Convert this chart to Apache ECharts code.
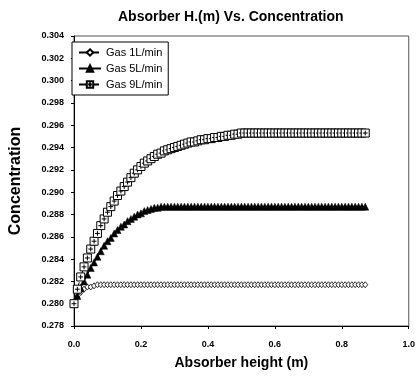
<!DOCTYPE html>
<html><head><meta charset="utf-8">
<script src="https://cdn.jsdelivr.net/npm/echarts@6/dist/echarts.min.js"></script>
<style>html,body{margin:0;padding:0;background:#fff}#c{width:418px;height:382px}</style>
</head><body><div id="c"></div>
<script>
const heights = [0.00,0.01,0.02,0.03,0.04,0.05,0.06,0.07,0.08,0.09,
0.10,0.11,0.12,0.13,0.14,0.15,0.16,0.17,0.18,0.19,
0.20,0.21,0.22,0.23,0.24,0.25,0.26,0.27,0.28,0.29,
0.30,0.31,0.32,0.33,0.34,0.35,0.36,0.37,0.38,0.39,
0.40,0.41,0.42,0.43,0.44,0.45,0.46,0.47,0.48,0.49,
0.50,0.51,0.52,0.53,0.54,0.55,0.56,0.57,0.58,0.59,
0.60,0.61,0.62,0.63,0.64,0.65,0.66,0.67,0.68,0.69,
0.70,0.71,0.72,0.73,0.74,0.75,0.76,0.77,0.78,0.79,
0.80,0.81,0.82,0.83,0.84,0.85,0.86,0.87];
const gas1 = [0.2800,0.2806,0.2810,0.2813,0.2815,0.2815,0.2816,0.2817,0.2817,0.2817,
0.2817,0.2817,0.2817,0.2817,0.2817,0.2817,0.2817,0.2817,0.2817,0.2817,
0.2817,0.2817,0.2817,0.2817,0.2817,0.2817,0.2817,0.2817,0.2817,0.2817,
0.2817,0.2817,0.2817,0.2817,0.2817,0.2817,0.2817,0.2817,0.2817,0.2817,
0.2817,0.2817,0.2817,0.2817,0.2817,0.2817,0.2817,0.2817,0.2817,0.2817,
0.2817,0.2817,0.2817,0.2817,0.2817,0.2817,0.2817,0.2817,0.2817,0.2817,
0.2817,0.2817,0.2817,0.2817,0.2817,0.2817,0.2817,0.2817,0.2817,0.2817,
0.2817,0.2817,0.2817,0.2817,0.2817,0.2817,0.2817,0.2817,0.2817,0.2817,
0.2817,0.2817,0.2817,0.2817,0.2817,0.2817,0.2817,0.2817];
const gas5 = [0.2800,0.2807,0.2814,0.2820,0.2826,0.2832,0.2837,0.2842,0.2847,0.2852,
0.2856,0.2859,0.2863,0.2866,0.2869,0.2871,0.2874,0.2876,0.2878,0.2880,
0.2881,0.2883,0.2884,0.2885,0.2886,0.2886,0.2887,0.2887,0.2887,0.2887,
0.2887,0.2887,0.2887,0.2887,0.2887,0.2887,0.2887,0.2887,0.2887,0.2887,
0.2887,0.2887,0.2887,0.2887,0.2887,0.2887,0.2887,0.2887,0.2887,0.2887,
0.2887,0.2887,0.2887,0.2887,0.2887,0.2887,0.2887,0.2887,0.2887,0.2887,
0.2887,0.2887,0.2887,0.2887,0.2887,0.2887,0.2887,0.2887,0.2887,0.2887,
0.2887,0.2887,0.2887,0.2887,0.2887,0.2887,0.2887,0.2887,0.2887,0.2887,
0.2887,0.2887,0.2887,0.2887,0.2887,0.2887,0.2887,0.2887];
const gas9 = [0.2800,0.2813,0.2824,0.2833,0.2841,0.2849,0.2856,0.2863,0.2870,0.2876,
0.2882,0.2887,0.2892,0.2897,0.2901,0.2905,0.2909,0.2913,0.2917,0.2920,
0.2923,0.2926,0.2928,0.2930,0.2932,0.2934,0.2935,0.2937,0.2938,0.2939,
0.2940,0.2941,0.2942,0.2943,0.2944,0.2945,0.2945,0.2946,0.2947,0.2947,
0.2948,0.2948,0.2949,0.2949,0.2950,0.2950,0.2951,0.2951,0.2952,0.2952,
0.2953,0.2953,0.2953,0.2953,0.2953,0.2953,0.2953,0.2953,0.2953,0.2953,
0.2953,0.2953,0.2953,0.2953,0.2953,0.2953,0.2953,0.2953,0.2953,0.2953,
0.2953,0.2953,0.2953,0.2953,0.2953,0.2953,0.2953,0.2953,0.2953,0.2953,
0.2953,0.2953,0.2953,0.2953,0.2953,0.2953,0.2953,0.2953];
const seriesNames = ['Gas 1L/min','Gas 5L/min','Gas 9L/min'];
const xTicks = {min:0, max:1, interval:0.2};
const yTicks = {min:0.278, max:0.304, interval:0.002};

const FONT = 'Arial, "Liberation Sans", sans-serif';
const pair = arr => heights.map((h,i)=>[h, arr[i]]);
const sqPlus = 'path://M0,0L10,0L10,10L0,10Z M5,2L5,8 M2,5L8,5';

const chart = echarts.init(document.getElementById('c'), null, {renderer:'canvas'});
chart.setOption({
  animation:false,
  backgroundColor:'#fff',
  title:{text:'Absorber H.(m) Vs. Concentration', left:113, top:5,
    textStyle:{fontFamily:FONT, fontSize:14, fontWeight:'bold', color:'#000'}},
  grid:{left:67, right:8, top:36, bottom:56, show:true, borderColor:'#555', borderWidth:1},
  legend:{orient:'vertical', left:72, top:42, data:seriesNames,
    backgroundColor:'#fff', borderColor:'#000', borderWidth:1,
    padding:[5,6,5,6], itemGap:5, itemWidth:22, itemHeight:8,
    textStyle:{fontFamily:FONT, fontSize:11, color:'#000'}},
  xAxis:{type:'value', min:xTicks.min, max:xTicks.max, interval:xTicks.interval,
    name:'Absorber height (m)', nameLocation:'middle', nameGap:30,
    nameTextStyle:{fontFamily:FONT, fontSize:14, fontWeight:'bold', color:'#000'},
    axisLine:{lineStyle:{color:'#000', width:1}},
    axisTick:{show:true, length:3, lineStyle:{color:'#000'}},
    splitLine:{show:false},
    axisLabel:{formatter:v=>v.toFixed(1), fontFamily:FONT, fontSize:9, fontWeight:'bold', color:'#000', margin:14}},
  yAxis:{type:'value', min:yTicks.min, max:yTicks.max, interval:yTicks.interval,
    name:'Concentration', nameLocation:'middle', nameGap:50,
    nameTextStyle:{fontFamily:FONT, fontSize:16, fontWeight:'bold', color:'#000'},
    axisLine:{show:true, lineStyle:{color:'#000', width:1}},
    axisTick:{show:true, length:3, lineStyle:{color:'#000'}},
    splitLine:{show:false},
    axisLabel:{formatter:v=>v.toFixed(3), fontFamily:FONT, fontSize:9, fontWeight:'bold', color:'#000', margin:10}},
  series:[
    {name:seriesNames[0], type:'line', data:pair(gas1), symbol:'diamond', symbolSize:[5,6],
      showAllSymbol:true, lineStyle:{color:'#000', width:1, type:'dashed'},
      itemStyle:{color:'#fff', borderColor:'#000', borderWidth:0.8}},
    {name:seriesNames[1], type:'line', data:pair(gas5), symbol:'triangle', symbolSize:7,
      showAllSymbol:true, lineStyle:{color:'#000', width:1},
      itemStyle:{color:'#000', borderColor:'#000', borderWidth:0.5}},
    {name:seriesNames[2], type:'line', data:pair(gas9), symbol:sqPlus, symbolSize:8,
      showAllSymbol:true, lineStyle:{color:'#000', width:1, type:'dashed'},
      itemStyle:{color:'#fff', borderColor:'#000', borderWidth:1}}
  ]
});
</script></body></html>
